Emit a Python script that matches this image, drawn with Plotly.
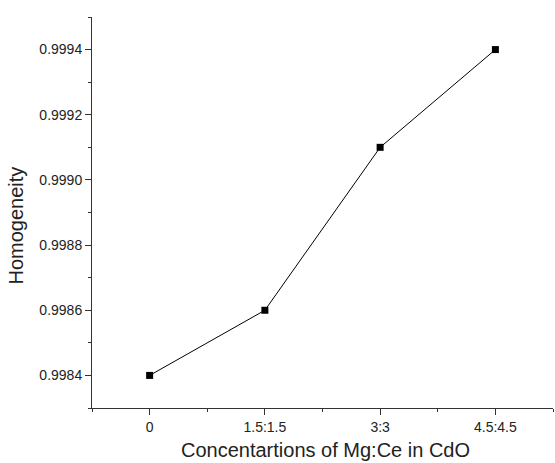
import plotly.graph_objects as go

categories = ["0", "1.5:1.5", "3:3", "4.5:4.5"]
homogeneity = [0.9984, 0.9986, 0.9991, 0.9994]
y_tickvals = [0.9984, 0.9986, 0.9988, 0.9990, 0.9992, 0.9994]
y_ticktext = ["0.9984", "0.9986", "0.9988", "0.9990", "0.9992", "0.9994"]

xpos = list(range(len(categories)))

W, H = 555, 463
L, R, T, B = 92, 2, 17, 55
pw, ph = W - L - R, H - T - B

fig = go.Figure()
fig.add_trace(go.Scatter(
    x=xpos, y=homogeneity, mode="lines+markers",
    line=dict(color="black", width=1),
    marker=dict(symbol="square", size=7, color="black"),
    showlegend=False,
))

font = "Liberation Sans, Arial, sans-serif"
fig.update_layout(
    width=W, height=H,
    margin=dict(l=L, r=R, t=T, b=B),
    paper_bgcolor="white", plot_bgcolor="white",
    font=dict(family=font, color="#222", size=14),
    xaxis=dict(
        range=[-0.5, 3.5], tickmode="array", tickvals=xpos, ticktext=categories,
        showline=True, linecolor="#333", linewidth=1, showgrid=False, zeroline=False,
        ticks="outside", ticklen=6, tickwidth=1, tickcolor="#333",
        minor=dict(tick0=0.5, dtick=1, ticks="outside", ticklen=3, tickcolor="#333", showgrid=False),
        tickfont=dict(size=14),
    ),
    yaxis=dict(
        range=[0.9983, 0.9995], tickmode="array", tickvals=y_tickvals, ticktext=y_ticktext,
        showline=True, linecolor="#333", linewidth=1, showgrid=False, zeroline=False,
        ticks="outside", ticklen=6, tickwidth=1, tickcolor="#333",
        minor=dict(tick0=0.9983, dtick=0.0001, ticks="outside", ticklen=3, tickcolor="#333", showgrid=False),
        tickfont=dict(size=14),
    ),
    annotations=[
        dict(text="Concentartions of Mg:Ce in CdO", xref="paper", yref="paper",
             x=(325 - L) / pw, y=-(450 - (T + ph)) / ph, xanchor="center", yanchor="middle",
             showarrow=False, font=dict(size=20, family=font, color="#222")),
        dict(text="Homogeneity", xref="paper", yref="paper", textangle=-90,
             x=(15.5 - L) / pw, y=((T + ph) - 226) / ph, xanchor="center", yanchor="middle",
             showarrow=False, font=dict(size=20, family=font, color="#222")),
    ],
)

fig.write_html("out.html", config={"displayModeBar": False},
               post_script="document.body.style.margin='0';document.body.style.overflow='hidden';")
